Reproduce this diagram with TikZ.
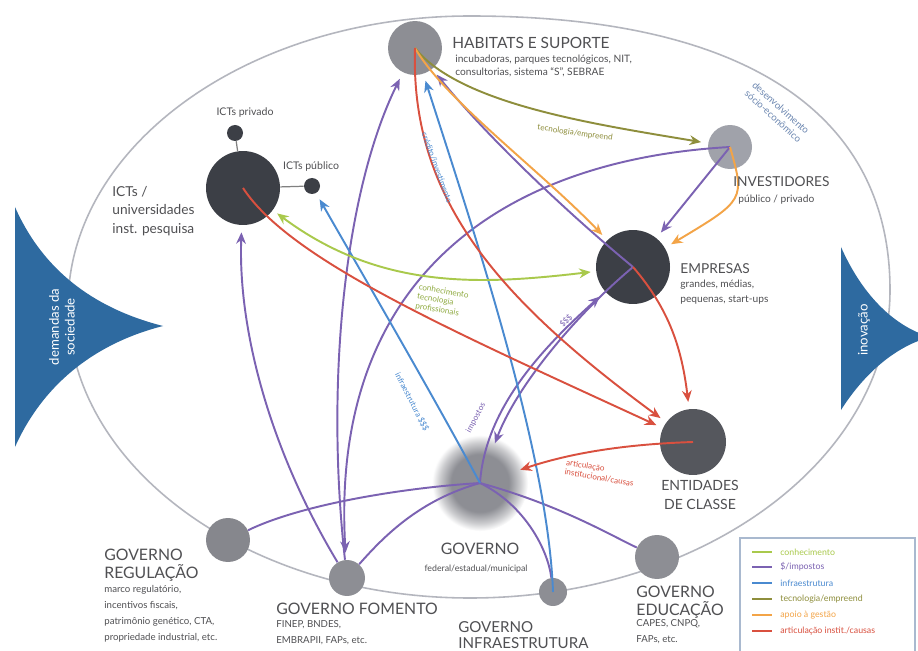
\documentclass[tikz,border=0pt]{standalone}
\usepackage{fontspec}
\setmainfont{Lato}
\usetikzlibrary{arrows.meta}
\definecolor{txt}{HTML}{505053}
\definecolor{purp}{HTML}{7B62B2}
\definecolor{bluec}{HTML}{4A8AD0}
\definecolor{greenc}{HTML}{A9C94C}
\definecolor{olivec}{HTML}{8E8E3C}
\definecolor{orangec}{HTML}{F3A447}
\definecolor{redc}{HTML}{D9503F}
\definecolor{tric}{HTML}{2E6AA0}
\definecolor{darkc}{HTML}{3C3F46}
\definecolor{midg}{HTML}{8D8E94}
\definecolor{lightg}{HTML}{A0A2AA}
\definecolor{entc}{HTML}{55575D}
\definecolor{ellc}{HTML}{B4B6BE}
\definecolor{legc}{HTML}{A9B9CF}
\definecolor{devc}{HTML}{6B86B0}
\pgfdeclareradialshading{govshade}{\pgfpoint{0bp}{0bp}}{color(0bp)=(midg); color(15bp)=(midg); color(21bp)=(midg!45!white); color(25bp)=(white); color(50bp)=(white)}
\begin{document}
\begin{tikzpicture}[x=0.02cm,y=-0.02cm,
  blob/.style={circle,inner sep=0pt,minimum size=#1*0.04cm},
  conn/.style={line width=1.1pt,-{Stealth[length=6.5pt,width=5.5pt]},shorten >=4pt},
  plain/.style={line width=1.1pt},
  ttl/.style={font=\fontsize{8.8}{10}\selectfont,text=txt,inner sep=0pt,align=left},
  sub/.style={font=\fontsize{5.8}{7.4}\selectfont,text=txt,inner sep=0pt,align=left},
  gttl/.style={font=\fontsize{9}{10.2}\selectfont,text=txt,inner sep=0pt,align=left},
  gsub/.style={font=\fontsize{5.5}{9.2}\selectfont,text=txt,inner sep=0pt,align=left},
  lbl/.style={font=\fontsize{4.6}{5.4}\selectfont,inner sep=0pt,align=left},
  legtext/.style={font=\fontsize{5}{6}\selectfont,inner sep=0pt,anchor=west},
  legline/.style={line width=1pt}
]
\useasboundingbox (0,0) rectangle (918,651);
\clip (0,0) rectangle (918,651);
\fill[white] (0,0) rectangle (918,651);

% big oval (four quarter arcs)
\draw[ellc,line width=0.9pt] (68,306) .. controls (68,146) and (248,16) .. (470,16)
  .. controls (743,16) and (890,112) .. (890,290)
  .. controls (890,460) and (702,598) .. (470,598)
  .. controls (248,598) and (68,467) .. (68,306) -- cycle;
\node[devc,font=\fontsize{5.5}{6.5}\selectfont,align=center,rotate=-42,inner sep=0pt] (dev) at (777,112) {desenvolvimento\\sócio-econômico};

% side triangles
\fill[tric] (15,207) .. controls (45,275) and (100,310) .. (163,326) .. controls (100,342) and (45,380) .. (15,447) -- cycle;
\node[white,rotate=90,align=center,font=\fontsize{7.5}{9}\selectfont,inner sep=0pt] (dem) at (62,327) {demandas da\\sociedade};
\fill[tric] (841,247) .. controls (860,290) and (890,325) .. (930,337) .. controls (890,348) and (860,380) .. (841,410) -- cycle;
\node[white,rotate=90,font=\fontsize{7.5}{9}\selectfont,inner sep=0pt] (inov) at (864,330) {inovação};

% nodes
\node[blob=27,fill=midg] (hab) at (415,48) {};
\node[blob=37,fill=darkc] (ict) at (243,188) {};
\node[blob=8,fill=darkc] (ictpriv) at (235,133) {};
\node[blob=8,fill=darkc] (ictpub) at (312,186) {};
\node[blob=22,fill=lightg] (inv) at (730,147) {};
\node[blob=37,fill=darkc] (emp) at (633,267) {};
\node[blob=33,fill=entc] (ent) at (693,442) {};
\shade[shading=govshade] (480,483) circle [radius=48];
\node[blob=35] (gov) at (480,483) {};
\node[blob=22,fill=midg!95!black] (reg) at (228,540) {};
\node[blob=18,fill=midg] (fom) at (347,578) {};
\node[blob=14,fill=midg] (inf) at (553,592) {};
\node[blob=22,fill=midg] (edu) at (657,557) {};

\draw[gray,line width=0.7pt] (ictpriv) -- (ict);
\draw[gray,line width=0.7pt] (ict) -- (ictpub);

% government links
\draw[plain,purp] (gov.center) .. controls (400,488) and (300,505) .. (reg);
\draw[plain,purp] (gov.center) .. controls (420,500) and (385,535) .. (fom);
\draw[plain,purp] (gov.center) .. controls (525,505) and (548,550) .. (inf);
\draw[plain,purp] (gov.center) .. controls (560,505) and (610,535) .. (edu);

% purple ($/impostos)
\draw[conn,purp] (inv.center) .. controls (500,160) and (330,280) .. (fom);
\draw[conn,purp] (fom) .. controls (325,380) and (345,190) .. (hab);
\draw[conn,purp] (fom) .. controls (270,450) and (238,330) .. (ict);
\draw[conn,purp] (emp.center) .. controls (570,215) and (490,140) .. (hab);
\draw[conn,purp] (inv.center) -- (emp);
\draw[conn,purp] (emp.center) .. controls (570,320) and (515,390) .. (gov);
\draw[conn,purp] (gov.center) .. controls (485,410) and (540,350) .. (emp);

% blue (infraestrutura)
\draw[conn,bluec] (inf.center) .. controls (548,450) and (470,220) .. (hab);
\draw[conn,bluec] (gov.center) .. controls (430,390) and (360,270) .. (ictpub);

% olive / orange
\draw[conn,olivec] (hab.center) .. controls (460,105) and (600,125) .. (inv);
\draw[conn,orangec] (hab.center) .. controls (445,100) and (540,170) .. (emp);
\draw[conn,orangec] (inv.center) .. controls (745,200) .. (emp);

% green (conhecimento)
\draw[line width=1.1pt,greenc,{Stealth[length=6.5pt,width=5.5pt]}-{Stealth[length=6.5pt,width=5.5pt]},shorten <=3pt,shorten >=3pt] (ict) .. controls (380,290) and (480,285) .. (emp);

% red (articulação)
\draw[conn,redc] (hab.center) .. controls (410,200) and (500,300) .. (ent);
\draw[conn,redc] (ict.center) .. controls (290,260) and (450,330) .. (ent);
\draw[conn,redc] (emp.center) .. controls (670,310) and (682,350) .. (ent);
\draw[conn,redc] (ent.center) .. controls (600,445) and (550,460) .. (gov);

% connector labels
\node[lbl,olivec,rotate=-8] (l1) at (575,133) {tecnologia/empreend};
\node[lbl,bluec,rotate=-70] (l2) at (437,168) {crédito/investimento};
\node[lbl,greenc!85!black,rotate=-10] (l3) at (442,301) {conhecimento\\tecnologia\\profissionais};
\node[lbl,bluec,rotate=-63] (l4) at (412,402) {infraestrutura \$\$\$};
\node[lbl,purp,rotate=62] (l5) at (476,418) {impostos};
\node[lbl,purp,rotate=45] (l6) at (566,321) {\$\$\$};
\node[lbl,redc,rotate=-10] (l7) at (600,473) {articulação\\institucional/causas};

% texts
\node[ttl,anchor=north west] (habt) at (452,37) {HABITATS E SUPORTE};
\node[sub,anchor=north west] (habs) at (455,55) {incubadoras, parques tecnológicos, NIT,\\consultorias, sistema “S”, SEBRAE};
\node[sub,font=\fontsize{6}{7}\selectfont] (privt) at (245,113) {ICTs privado};
\node[sub,font=\fontsize{6}{7}\selectfont] (pubt) at (311,167) {ICTs público};
\node[sub,font=\fontsize{7.8}{10.5}\selectfont,anchor=north west] (ictt) at (112,186) {ICTs /\\universidades\\inst. pesquisa};
\node[ttl,font=\fontsize{7.8}{9}\selectfont,anchor=north west] (invt) at (733,176) {INVESTIDORES};
\node[sub,anchor=north west] (invs) at (738,195) {público / privado};
\node[ttl,font=\fontsize{7.8}{9}\selectfont,anchor=north west] (empt) at (680,263) {EMPRESAS};
\node[sub,font=\fontsize{5.8}{8.5}\selectfont,anchor=north west] (emps) at (680,280) {grandes, médias,\\pequenas, start-ups};
\node[ttl,font=\fontsize{8}{10.8}\selectfont,align=center,anchor=north] (entt) at (700,480) {ENTIDADES\\DE CLASSE};
\node[gttl,anchor=north] (govt) at (480,543) {GOVERNO};
\node[sub,font=\fontsize{5}{6}\selectfont] (govs) at (476,569) {federal/estadual/municipal};
\node[gttl,anchor=north west] (regt) at (104,549) {GOVERNO\\REGULAÇÃO};
\node[gsub,anchor=north west] (regs) at (104,585) {marco regulatório,\\incentivos fiscais,\\patrimônio genético, CTA,\\propriedade industrial, etc.};
\node[gttl,anchor=north west] (fomt) at (276,603) {GOVERNO FOMENTO};
\node[gsub,anchor=north west] (foms) at (276,620) {FINEP, BNDES,\\EMBRAPII, FAPs, etc.};
\node[gttl,font=\fontsize{8.6}{9.4}\selectfont,anchor=north west] (inft) at (458,621) {GOVERNO\\INFRAESTRUTURA};
\node[gttl,anchor=north west] (edut) at (636,586) {GOVERNO\\EDUCAÇÃO};
\node[gsub,anchor=north west] (edus) at (636,619) {CAPES, CNPQ,\\FAPs, etc.};

% legend
\draw[legc,line width=0.9pt] (740,538) rectangle (915,656);
\foreach \y/\c/\t in {552/greenc/{conhecimento},567/purp/{\$/impostos},583/bluec/{infraestrutura},599/olivec/{tecnologia/empreend},615/orangec/{apoio à gestão},631/redc/{articulação instit./causas}}{
  \draw[legline,\c] (752,\y) -- (772,\y);
  \node[legtext,text=\c] at (780,\y) {\t};
}
\end{tikzpicture}
\end{document}
